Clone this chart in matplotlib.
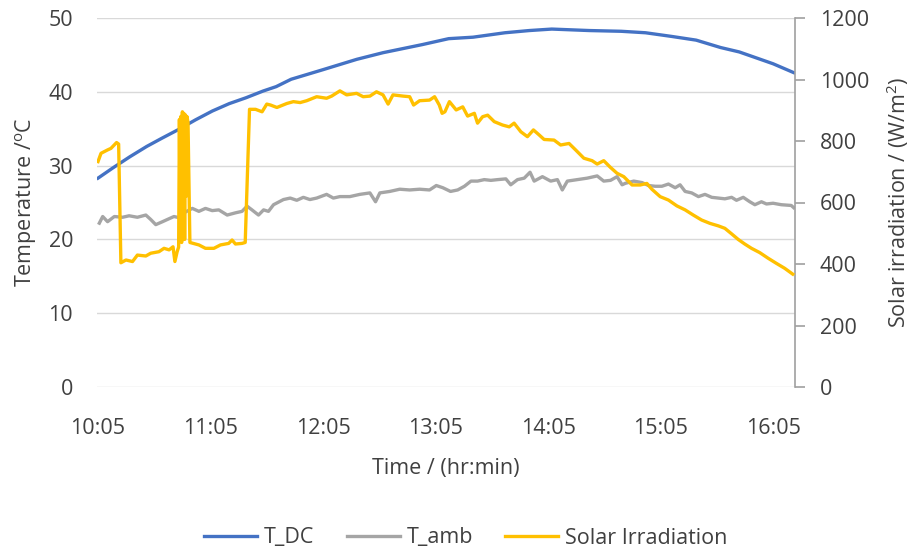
import matplotlib
matplotlib.use("Agg")
import matplotlib.pyplot as plt

# ---- data: minutes after 10:05 and measured values ----
t_dc_min = [0, 8, 17, 26, 34, 43, 52, 61, 70, 79, 88, 95, 103, 120, 138, 152,
            173, 187, 200, 217, 230, 242, 262, 279, 292, 306, 319, 332, 342,
            351, 360, 371]
t_dc = [28.3, 29.7, 31.2, 32.6, 33.7, 34.9, 36.2, 37.4, 38.4, 39.2, 40.1, 40.7,
        41.7, 43.0, 44.4, 45.3, 46.4, 47.2, 47.4, 48.0, 48.3, 48.5, 48.3, 48.2,
        48.0, 47.5, 47.0, 46.0, 45.4, 44.6, 43.8, 42.6]

t_amb_min = [0.7, 2.5, 5.1, 8.7, 13.1, 16.6, 21, 25.5, 28.1, 30.8, 34.4, 37,
             40.5, 44, 45.8, 50.3, 53.8, 57.3, 60.9, 64.4, 68.9, 73.3, 76.8,
             79.5, 82.1, 85.6, 88.3, 90.9, 93.6, 98.9, 102.5, 106, 109.5, 113,
             116.6, 121.9, 125.5, 129, 134.3, 139.6, 145, 148, 150.3, 155.6,
             160.9, 166.2, 171.5, 176.8, 180.4, 183.9, 188, 191.8, 195.4, 198.9,
             202.4, 206, 209.5, 213.1, 217.5, 220.1, 223.7, 227.3, 230.4, 232.6,
             237, 241.4, 245, 247.6, 250.3, 255.6, 260.9, 266.2, 269.7, 273.3,
             276.8, 279.5, 281.2, 285.7, 290.1, 293.6, 297.2, 300.7, 304.2,
             307.8, 310.4, 313.1, 316.6, 320.2, 323.7, 327.3, 330.8, 334.3,
             337.9, 340.5, 344.1, 347.6, 350.3, 353.8, 356.5, 360, 364.4, 369.7,
             371]
t_amb = [22.2, 23.1, 22.4, 23.1, 23.0, 23.2, 23.0, 23.3, 22.7, 22.0, 22.4, 22.7,
         23.1, 22.9, 23.6, 24.2, 23.8, 24.2, 23.9, 24.0, 23.3, 23.6, 23.8,
         24.5, 24.0, 23.3, 24.0, 23.8, 24.7, 25.4, 25.6, 25.3, 25.7, 25.4,
         25.6, 26.1, 25.6, 25.8, 25.8, 26.1, 26.3, 25.1, 26.3, 26.5,
         26.8, 26.7, 26.8, 26.7, 27.3, 27.0, 26.5, 26.7, 27.2, 27.9,
         27.9, 28.1, 28.0, 28.1, 28.2, 27.4, 28.1, 28.3, 29.1, 27.9,
         28.5, 27.9, 28.1, 26.7, 27.9, 28.1, 28.3, 28.6, 27.9, 28.0,
         28.5, 27.4, 27.6, 27.9, 27.7, 27.3, 27.2, 27.2, 27.5,
         27.0, 27.4, 26.5, 26.3, 25.8, 26.1, 25.7, 25.6, 25.5,
         25.7, 25.3, 25.7, 25.1, 24.7, 25.1, 24.8, 24.9, 24.7, 24.6,
         24.3]

irr_min = [0, 1.6, 5.1, 6.9, 9.9, 11, 12.2, 14.9, 18.4, 21, 25.5, 28.1, 32.5,
           35.2, 37.9, 40, 41, 42.2, 43, 43.4, 43.8, 44.2, 44.6, 45.0, 45.4,
           45.8, 46.2, 46.6, 47.0, 47.4, 48, 49, 53.8, 57.3, 61.8, 65.3, 69.7,
           71.5, 73.3, 76.8, 78.5, 80.8, 84, 87.5, 90, 92, 95.4, 100.7, 104.2,
           107.8, 111.3, 116.6, 121.9, 124.6, 129, 132.6, 137.9, 141.4, 145,
           148.5, 152, 154.7, 157.3, 162.7, 166.2, 168.3, 171.5, 176.8, 179.5,
           182, 183.5, 185, 187.4, 191, 194.5, 197.1, 200.7, 202.4, 205.1,
           207.8, 211.3, 215.7, 219.3, 221.9, 225.5, 229, 232.2, 235.2, 237.9,
           243.2, 246.7, 251.2, 254.7, 259.1, 263.5, 266.2, 269.7, 273.3,
           276.8, 280.4, 284.8, 289.2, 292.7, 295.4, 299.8, 304.2, 308.7,
           313.1, 317.5, 321.9, 326.4, 330.8, 334.3, 337.9, 341.4, 344.9,
           348.5, 352.9, 357.3, 361.8, 366.2, 370.5]
irr = [733, 760, 771, 776, 795, 790, 404, 413, 408, 429, 426, 435, 440,
       451, 446, 456, 408, 440, 455, 870, 520, 880, 470, 895, 560,
       890, 480, 885, 620, 880, 860, 470, 462, 451, 451, 462, 467,
       478, 465, 467, 470, 903, 903, 895, 920, 917, 909, 922, 928,
       925, 931, 944, 939, 946, 963, 950, 955, 944, 946,
       960, 950, 920, 950, 946, 944, 917, 931, 933, 944,
       917, 890, 895, 928, 901, 911, 881, 890, 858, 879,
       884, 863, 852, 846, 858, 830, 814, 836, 820, 805,
       803, 787, 792, 771, 744, 736, 725, 736, 714,
       695, 684, 657, 657, 662, 643, 619, 608, 589,
       576, 559, 543, 532, 524, 516, 498, 480, 465,
       451, 437, 419, 402, 386, 367]

tick_min = [0, 60, 120, 180, 240, 300, 360]
tick_labels = ["10:05", "11:05", "12:05", "13:05", "14:05", "15:05", "16:05"]

# ---- styling ----
FONT = "Open Sans"
TXT = "#404040"
plt.rcParams["font.family"] = [FONT, "DejaVu Sans"]
plt.rcParams["mathtext.fontset"] = "custom"
plt.rcParams["mathtext.rm"] = FONT
plt.rcParams["mathtext.it"] = FONT
fs = 15.5

fig = plt.figure(figsize=(9.17, 5.53), dpi=100)
ax = fig.add_axes([96.7 / 917, 166 / 553, (795 - 96.7) / 917, (387 - 18) / 553])
ax2 = ax.twinx()

lw = 2.4
l1, = ax.plot(t_dc_min, t_dc, color="#4472C4", lw=lw, label="T_DC",
              solid_joinstyle="round", zorder=3)
l2, = ax.plot(t_amb_min, t_amb, color="#A5A5A5", lw=lw, label="T_amb",
              solid_joinstyle="round", zorder=2)
l3, = ax2.plot(irr_min, irr, color="#FFC000", lw=lw, label="Solar Irradiation",
               solid_joinstyle="round", zorder=3)

ax.set_xlim(-0.7, 371.7)
ax.set_ylim(0, 50)
ax2.set_ylim(0, 1200)

ax.set_yticks(range(0, 51, 10))
ax.grid(axis="y", color="#D9D9D9", lw=1.0)
ax.set_axisbelow(True)
ax.set_xticks(tick_min)
ax.set_xticklabels(tick_labels)

for s in ["left", "top", "right", "bottom"]:
    ax.spines[s].set_visible(False)
    ax2.spines[s].set_visible(False)
ax2.spines["right"].set_visible(True)
ax2.spines["right"].set_color("#A0A0A0")
ax2.spines["right"].set_linewidth(1.2)

ax.tick_params(axis="y", length=0, pad=17, labelsize=fs, labelcolor=TXT)
ax.tick_params(axis="x", length=0, pad=22, labelsize=fs, labelcolor=TXT)
ax2.set_yticks(range(0, 1201, 200))
ax2.tick_params(axis="y", length=7, width=1.2, color="#A0A0A0", pad=11,
                labelsize=fs, labelcolor=TXT)

ax.set_xlabel("Time / (hr:min)", fontsize=fs, color=TXT, labelpad=14)
ax.set_ylabel(r"Temperature /$^{\mathrm{o}}$C", fontsize=fs, color=TXT, labelpad=7)
ax2.set_ylabel(r"Solar irradiation / (W/m$^{\mathrm{2}}$)", fontsize=fs, color=TXT,
               labelpad=11)

fig.legend(handles=[l1, l2, l3], loc="center", bbox_to_anchor=(466 / 917, 1 - 538 / 553),
           ncol=3, frameon=False, fontsize=fs, handlelength=2.45, handletextpad=0.33,
           columnspacing=1.5, labelcolor=TXT)

fig.savefig("out.png", dpi=100)
